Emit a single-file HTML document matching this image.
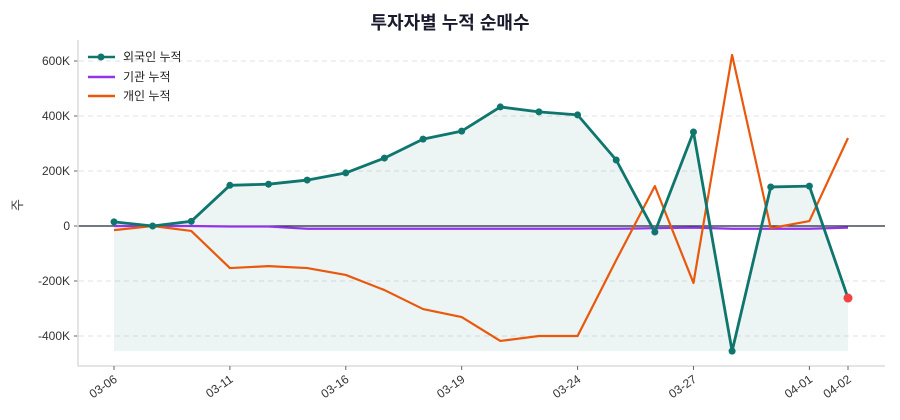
<!DOCTYPE html>
<html><head><meta charset="utf-8"><style>
body{margin:0;background:#fff;}
svg{display:block;font-family:"Liberation Sans","Noto Sans CJK KR",sans-serif;}
</style></head><body>
<svg id="chart" width="900" height="420">
<text x="450" y="29" text-anchor="middle" font-size="18" font-weight="bold" fill="#1a1a2e">투자자별 누적 순매수</text>
<text transform="translate(22,205) rotate(-90)" text-anchor="middle" font-size="13" fill="#444">주</text>
<g id="grid"></g><g id="marks"></g><g id="axes"></g>
<g>
<g><line x1="88" y1="57" x2="115" y2="57" stroke="#0f766e" stroke-width="2.5"/><circle cx="101" cy="57" r="3.5" fill="#0f766e"/><text x="123" y="61" font-size="12" fill="#222">외국인 누적</text></g>
<g><line x1="88" y1="77" x2="115" y2="77" stroke="#9333ea" stroke-width="2.5"/><text x="123" y="81" font-size="12" fill="#222">기관 누적</text></g>
<g><line x1="88" y1="96" x2="115" y2="96" stroke="#ea580c" stroke-width="2.5"/><text x="123" y="100" font-size="12" fill="#222">개인 누적</text></g>
</g>
</svg>
<script>
const dates=["03-06","03-07","03-10","03-11","03-12","03-13","03-14","03-16","03-17","03-18","03-19","03-20","03-21","03-24","03-25","03-26","03-27","03-28","04-01","04-02"];
const tickIndices=[0,3,6,9,12,15,18,19];
const tickLabels=["03-06","03-11","03-16","03-19","03-24","03-27","04-01","04-02"];
const foreign=[15,0,17,148,152,167,193,247,316,345,433,415,404,240,-22,342,-455,142,145,-262];
const institution=[0,0,0,-2,-2,-10,-10,-10,-10,-10,-10,-10,-10,-10,-8,-6,-10,-10,-10,-6];
const individual=[-15,0,-18,-153,-146,-153,-178,-233,-302,-331,-418,-400,-400,-124,145,-207,622,-8,18,320];
const yTicks=[-400,-200,0,200,400,600];
const yTickLabels=["-400K","-200K","0","200K","400K","600K"];
const NS="http://www.w3.org/2000/svg";
const x=i=>114+i*(848-114)/(dates.length-1);
const y=v=>226-v*0.275;
function mk(tag,attrs,parent){const e=document.createElementNS(NS,tag);for(const k in attrs)e.setAttribute(k,attrs[k]);document.getElementById(parent).appendChild(e);return e;}
yTicks.forEach((t,i)=>{
 if(t!==0){const g=mk('line',{x1:79,x2:885,y1:y(t),y2:y(t),stroke:'#e2e2e2','stroke-dasharray':'5,4'},'grid');
 
 }
 const tk=mk('line',{x1:74,x2:78,y1:y(t),y2:y(t),stroke:'#666'},'axes');
 
 
 const lb=mk('text',{x:70,y:y(t)+4,'text-anchor':'end','font-size':12,fill:'#333'},'axes');
 lb.textContent=yTickLabels[i];
 
 
});
const sl=mk('line',{x1:78,x2:78,y1:40,y2:366,stroke:'#d8dbe0','stroke-width':1.5},'axes');


const sb=mk('line',{x1:78,x2:885,y1:366,y2:366,stroke:'#d8dbe0','stroke-width':1.5},'axes');


tickIndices.forEach((idx,i)=>{
 const tk=mk('line',{x1:x(idx),x2:x(idx),y1:366,y2:370,stroke:'#666'},'axes');
 
 
 const lb=mk('text',{x:x(idx)+4,y:381,'text-anchor':'end','font-size':12,fill:'#333',transform:`rotate(-35 ${x(idx)+4} 381)`},'axes');
 lb.textContent=tickLabels[i];
 
 
});
const minV=Math.min(...foreign);
let d=`M${x(0)},${y(minV)} `+foreign.map((v,i)=>`L${x(i)},${y(v)}`).join(' ')+` L${x(foreign.length-1)},${y(minV)} Z`;
const area=mk('path',{d:d,fill:'#0f766e','fill-opacity':0.08},'marks');


const zl=mk('line',{x1:78,x2:885,y1:y(0),y2:y(0),stroke:'#1f2937','stroke-width':1.3},'marks');


function line(arr,color,name,w){
 const p=mk('polyline',{points:arr.map((v,i)=>x(i)+','+y(v)).join(' '),fill:'none',stroke:color,'stroke-width':w,'stroke-linejoin':'round'},'marks');
 
 
}
line(institution,'#9333ea','institution-line',2.2);
line(individual,'#ea580c','individual-line',2.2);
line(foreign,'#0f766e','foreign-line',2.8);
foreign.forEach((v,i)=>{
 const last=i===foreign.length-1;
 const c=mk('circle',{cx:x(i),cy:y(v),r:last?4.5:3.5,fill:last?'#ef4444':'#0f766e'},'marks');
 
 
});
</script>
</body></html>
